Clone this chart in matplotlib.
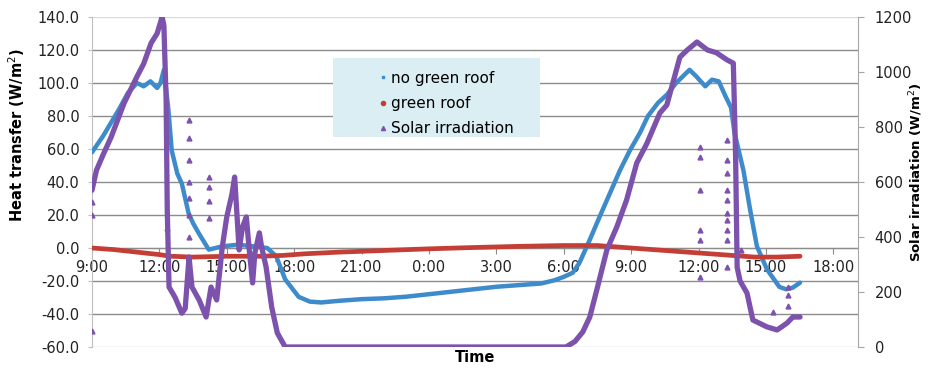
import matplotlib.pyplot as plt
from matplotlib.lines import Line2D
from matplotlib.patches import Rectangle

# time in hours from midnight of day 1 (9:00 day 1 -> 9, 18:00 day 2 -> 42)
blue_t = [9.0, 9.2, 9.5, 9.85, 10.2, 10.6, 11.0, 11.3, 11.6, 11.9, 12.05, 12.2, 12.3, 12.4,
          12.55, 12.8, 13.0, 13.3, 13.5, 13.75, 14.2, 14.8, 15.5, 16.2, 16.8, 17.2, 17.6, 18.2,
          18.7, 19.2, 19.6, 20.0, 21.0, 22.0, 23.0, 24.0, 25.0, 26.0, 27.0, 28.0, 29.0, 29.6,
          30.0, 30.4, 30.7, 31.16, 31.6, 32.05, 32.5, 32.94, 33.4, 33.75, 34.2, 34.6, 35.0,
          35.3, 35.6, 35.9, 36.3, 36.6, 36.9, 37.2, 37.45, 37.6, 38.0, 38.3, 38.6, 39.05, 39.6,
          39.9, 40.2, 40.52]
blue_v = [58, 62, 68, 76, 84, 94, 100, 98, 101, 97, 100, 108, 96, 84,
          59, 45, 39, 21, 15, 9, -1, 1, 2, 1, 0, -5, -19, -29.6,
          -32.5, -33, -32.5, -32, -31, -30.5, -29.5, -28, -26.5, -25, -23.5, -22.5, -21.5, -19.5,
          -17.5, -15, -9, 5, 19, 33, 47, 59, 70, 80, 88, 93, 100,
          104, 108, 104, 98, 102, 101, 92, 85, 70, 47, 23, 1, -13, -23.6,
          -25, -24, -21]

red_t = [9.0, 10.0, 11.0, 12.0, 12.5, 13.5, 15.0, 16.5, 17.5, 18.5, 20.0, 22.0, 24.0, 26.0,
         28.0, 30.0, 31.5, 33.0, 34.5, 36.0, 37.5, 38.5, 39.5, 40.52]
red_v = [0, -1, -2.5, -4, -5, -5.5, -5, -5, -4.5, -3.5, -2.5, -1.5, -0.5, 0.3,
         1, 1.5, 1.5, 0, -1.5, -3, -4.5, -5.5, -5.5, -5]

solar_t = [9.0, 9.2, 9.5, 9.85, 10.43, 11.0, 11.3, 11.63, 11.9, 12.12, 12.2, 12.3, 12.35, 12.43,
           12.7, 13.0, 13.15, 13.32, 13.45, 13.77, 14.08, 14.3, 14.55, 14.8, 15.0, 15.24, 15.35,
           15.55, 15.7, 15.87, 16.0, 16.15, 16.25, 16.45, 16.55, 16.75, 17.0, 17.25, 17.6,
           30.1, 30.5, 30.85, 31.16, 31.47, 31.92, 32.36, 32.8, 33.25, 33.7, 34.28, 34.59, 35.17,
           35.5, 35.93, 36.4, 36.8, 37.27, 37.55, 37.65, 37.72, 37.85, 38.16, 38.42, 38.7, 39.05,
           39.5, 39.94, 40.2, 40.52]
solar_v = [570, 643, 700, 763, 887, 983, 1030, 1105, 1140, 1200, 1170, 900, 500, 218,
           180, 123, 140, 327, 218, 171, 109, 218, 171, 364, 473, 560, 618,
           353, 436, 473, 353, 233, 342, 415, 364, 291, 145, 51, 0,
           0, 20, 55, 109, 207, 353, 436, 535, 669, 740, 851, 880, 1054,
           1080, 1109, 1080, 1070, 1044, 1032, 700, 290, 240, 196, 98, 87, 73,
           62, 87, 109, 109]

# scattered solar readings away from the main band
solar_pts_t = [9.0, 9.0, 9.0, 12.35, 13.32, 13.32, 13.32, 13.32, 13.32, 13.32, 13.32,
               14.2, 14.2, 14.2, 14.2, 36.06, 36.06, 36.06, 36.06, 36.06, 36.06,
               37.27, 37.27, 37.27, 37.27, 37.27, 37.27, 37.27, 37.27, 37.27, 37.27,
               37.9, 39.3, 40.0, 40.0, 40.0]
solar_pts_v = [60, 528, 480, 432, 400, 480, 540, 600, 680, 760, 825,
               470, 530, 580, 618, 727, 691, 571, 425, 389, 255,
               753, 680, 633, 571, 535, 487, 462, 425, 389, 291,
               353, 127, 150, 190, 220]

tick_hours = [9, 12, 15, 18, 21, 24, 27, 30, 33, 36, 39, 42]
tick_labels = ["9:00", "12:00", "15:00", "18:00", "21:00", "0:00", "3:00", "6:00",
               "9:00", "12:00", "15:00", "18:00"]

blue = "#3D8BCB"
red = "#C43E36"
purple = "#7D52AD"

plt.rcParams['font.family'] = 'DejaVu Sans'
fig = plt.figure(figsize=(9.29, 3.71), dpi=100)
ax = fig.add_axes([92 / 929, 1 - 347 / 371, (858 - 92) / 929, 330 / 371])
ax2 = ax.twinx()

ax.plot(blue_t, blue_v, color=blue, lw=3.2, solid_capstyle='round', zorder=3)
ax.plot(red_t, red_v, color=red, lw=3.4, solid_capstyle='round', zorder=4)
ax2.plot(solar_t, solar_v, color=purple, lw=3.8, solid_capstyle='round', zorder=3)
ax2.plot(solar_pts_t, solar_pts_v, ls='none', marker='^', ms=3.5, color=purple, zorder=3)

ax.set_xlim(9, 43.1)
ax.set_ylim(-60, 140)
ax.set_yticks(range(-60, 141, 20))
ax.set_yticklabels([f"{v:.1f}" for v in range(-60, 141, 20)])
ax.set_xticks(tick_hours)
ax.set_xticklabels(tick_labels)
ax2.set_ylim(0, 1200)
ax2.set_yticks(range(0, 1201, 200))

ax.grid(axis='y', color='#8C8C8C', lw=1.0)
ax.set_axisbelow(True)
grid_lines = ax.yaxis.get_gridlines()
grid_lines[0].set_color('#C5D5E6')
grid_lines[-1].set_color('#D0DCE8')

ax.spines['bottom'].set_position(('data', 0))
ax.spines['bottom'].set_color('#8C8C8C')
ax.spines['top'].set_visible(False)
ax.spines['right'].set_visible(False)
ax.spines['left'].set_color('#BFBFBF')
ax2.spines['top'].set_visible(False)
ax2.spines['left'].set_visible(False)
ax2.spines['bottom'].set_visible(False)
ax2.spines['right'].set_color('#A6A6A6')

ax.tick_params(axis='x', length=4, color='#8C8C8C', labelsize=10.5, pad=5, labelcolor='#222222')
ax.tick_params(axis='y', length=3, color='#BFBFBF', labelsize=10.5, pad=6, labelcolor='#222222')
ax2.tick_params(axis='y', length=4, color='#A6A6A6', labelsize=10.5, pad=8, labelcolor='#222222')

ax.set_ylabel("Heat transfer (W/m$^2$)", fontsize=10.5, fontweight='bold')
ax.yaxis.set_label_coords((27 - 92) / 766, (347 - 135) / 330)
ax2.set_ylabel("Solar irradiation (W/m$^2$)", fontsize=9.5, fontweight='bold')
ax2.yaxis.set_label_coords((907 - 92) / 766, (347 - 172) / 330)
fig.text(475 / 929, 1 - 358 / 371, "Time", ha='center', va='center', fontsize=10.5,
         fontweight='bold')

# legend box
ax2.add_patch(Rectangle(((333 - 92) / 766, (347 - 137) / 330),
                        (540 - 333) / 766, (137 - 58) / 330, transform=ax2.transAxes,
                        facecolor='#DAEEF3', edgecolor='none', zorder=5))
handles = [Line2D([], [], ls='none', marker='s', ms=2, color=blue),
           Line2D([], [], ls='none', marker='o', ms=3, color=red),
           Line2D([], [], ls='none', marker='^', ms=3, color=purple)]
leg = ax2.legend(handles, ["no green roof", "green roof", "Solar irradiation"],
                 loc='upper left', bbox_to_anchor=((369 - 92) / 766, (347 - 63) / 330),
                 frameon=False, fontsize=11, handlelength=0.8, handletextpad=0.15,
                 borderpad=0, labelspacing=0.68)
leg.set_zorder(6)

fig.savefig("out.png", dpi=100)
